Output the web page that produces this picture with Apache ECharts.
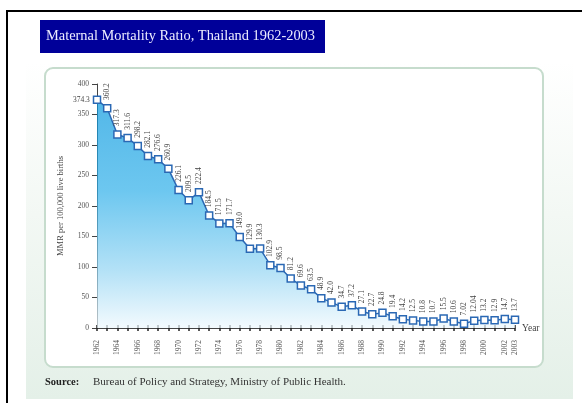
<!DOCTYPE html>
<html>
<head>
<meta charset="utf-8">
<script src="https://cdn.jsdelivr.net/npm/echarts@6/dist/echarts.min.js"></script>
<style>
  html, body { margin: 0; padding: 0; background: #fff; }
  #chart { width: 582px; height: 403px; }
</style>
</head>
<body>
<div id="chart"></div>
<script>
// 年份与孕产妇死亡率（每10万活产）
const years = [];
for (let y = 1962; y <= 2003; y++) years.push(String(y));

const mmr = [
  374.3, 360.2, 317.3, 311.6, 298.2, 282.1, 276.6, 260.9, 226.1, 209.5,
  222.4, 184.5, 171.5, 171.7, 149.0, 129.9, 130.3, 102.9, 98.5, 81.2,
  69.6, 63.5, 48.9, 42.0, 34.7, 37.2, 27.1, 22.7, 24.8, 19.4,
  14.2, 12.5, 10.8, 10.7, 15.5, 10.6, 7.02, 12.04, 13.2, 12.9,
  14.7, 13.7
];

// 图上印出来的数值文字（保留原来的小数位）
const mmrText = [
  '374.3', '360.2', '317.3', '311.6', '298.2', '282.1', '276.6', '260.9', '226.1', '209.5',
  '222.4', '184.5', '171.5', '171.7', '149.0', '129.9', '130.3', '102.9', '98.5', '81.2',
  '69.6', '63.5', '48.9', '42.0', '34.7', '37.2', '27.1', '22.7', '24.8', '19.4',
  '14.2', '12.5', '10.8', '10.7', '15.5', '10.6', '7.02', '12.04', '13.2', '12.9',
  '14.7', '13.7'
];

const yTicks = [0, 50, 100, 150, 200, 250, 300, 350, 400];

const serif = '"Liberation Serif", "DejaVu Serif", serif';
const blue = '#2a68b4';

// 第一个点的标签放在左边，其余竖排在上方
const seriesData = mmr.map(function (v, i) {
  if (i === 0) {
    return {
      value: v,
      label: { position: 'left', rotate: 0, align: 'right', verticalAlign: 'middle', distance: 3 }
    };
  }
  return v;
});

const chart = echarts.init(document.getElementById('chart'));

const option = {
  animation: false,
  backgroundColor: '#fff',
  graphic: [
    // 外框
    { type: 'line', shape: { x1: 7, y1: 11, x2: 582, y2: 11 }, style: { stroke: '#000', lineWidth: 2 }, z: -5 },
    { type: 'line', shape: { x1: 7, y1: 10, x2: 7, y2: 403 }, style: { stroke: '#000', lineWidth: 2 }, z: -5 },
    // 标题
    { type: 'rect', shape: { x: 40, y: 20, width: 285, height: 33 }, style: { fill: '#000099' }, z: -5 },
    {
      type: 'text', left: 46, top: 29, z: 5,
      style: { text: 'Maternal Mortality Ratio, Thailand 1962-2003', fill: '#ececff', font: '14.4px ' + serif }
    },
    // 背景浅绿
    {
      type: 'rect', shape: { x: 26, y: 62, width: 547, height: 337 }, z: -10,
      style: {
        fill: new echarts.graphic.LinearGradient(0, 0, 0, 1, [
          { offset: 0, color: '#ffffff' },
          { offset: 0.45, color: '#f3f8f4' },
          { offset: 1, color: '#e4f0e8' }
        ])
      }
    },
    // 图表面板
    {
      type: 'rect', shape: { x: 45, y: 68, width: 498, height: 299, r: 8 }, z: -9,
      style: { fill: '#fff', stroke: '#c6dccd', lineWidth: 2 }
    },
    // 来源
    {
      type: 'text', left: 45, top: 377, z: 5,
      style: { text: 'Source:', fill: '#222', font: 'bold 10.5px ' + serif }
    },
    {
      type: 'text', left: 93, top: 377, z: 5,
      style: { text: 'Bureau of Policy and Strategy, Ministry of Public Health.', fill: '#333', font: '11px ' + serif }
    }
  ],
  grid: { left: 97, right: 67, top: 84, bottom: 75 },
  xAxis: [
    {
      type: 'category',
      data: years,
      boundaryGap: false,
      name: 'Year',
      nameLocation: 'end',
      nameGap: 7,
      nameTextStyle: { fontFamily: serif, fontSize: 9.5, color: '#444', verticalAlign: 'middle' },
      axisLine: { lineStyle: { color: '#444', width: 1 } },
      axisTick: { show: true, interval: 0, length: 3, lineStyle: { color: '#222', width: 1.5 } },
      axisLabel: {
        interval: function (i) { return i % 2 === 0 || i === 41; },
        rotate: 90,
        margin: 12,
        fontFamily: serif,
        fontSize: 7.5,
        color: '#555',
        hideOverlap: false
      },
      splitLine: { show: false }
    },
    {
      type: 'category',
      data: years,
      boundaryGap: false,
      position: 'bottom',
      axisLine: { show: false },
      axisTick: { show: true, interval: 0, inside: true, length: 3, lineStyle: { color: '#222', width: 1.5 } },
      axisLabel: { show: false },
      splitLine: { show: false }
    }
  ],
  yAxis: {
    type: 'value',
    min: 0,
    max: 400,
    interval: 50,
    name: 'MMR per 100,000 live births',
    nameLocation: 'middle',
    nameGap: 32,
    nameTextStyle: { fontFamily: serif, fontSize: 8.5, color: '#444' },
    axisLine: { show: true, lineStyle: { color: '#444', width: 1 } },
    axisTick: { show: true, length: 5, lineStyle: { color: '#444' } },
    axisLabel: {
      margin: 8,
      fontFamily: serif,
      fontSize: 7.5,
      color: '#555',
      formatter: function (v) { return yTicks.indexOf(v) >= 0 ? String(v) : ''; }
    },
    splitLine: { show: false }
  },
  series: [
    {
      type: 'line',
      data: seriesData,
      symbol: 'rect',
      symbolSize: 7,
      showAllSymbol: true,
      lineStyle: { color: blue, width: 1.5 },
      itemStyle: { color: '#fff', borderColor: blue, borderWidth: 1.5 },
      areaStyle: {
        color: new echarts.graphic.LinearGradient(0, 0, 0, 1, [
          { offset: 0, color: '#0898de' },
          { offset: 0.4, color: '#2eafe9' },
          { offset: 0.75, color: '#94d5f3' },
          { offset: 1, color: '#eef8fd' }
        ])
      },
      label: {
        show: true,
        position: 'top',
        rotate: 90,
        align: 'left',
        verticalAlign: 'middle',
        distance: 4,
        fontFamily: serif,
        fontSize: 7.5,
        color: '#444',
        formatter: function (p) { return mmrText[p.dataIndex]; }
      }
    }
  ]
};

chart.setOption(option);
</script>
</body>
</html>
